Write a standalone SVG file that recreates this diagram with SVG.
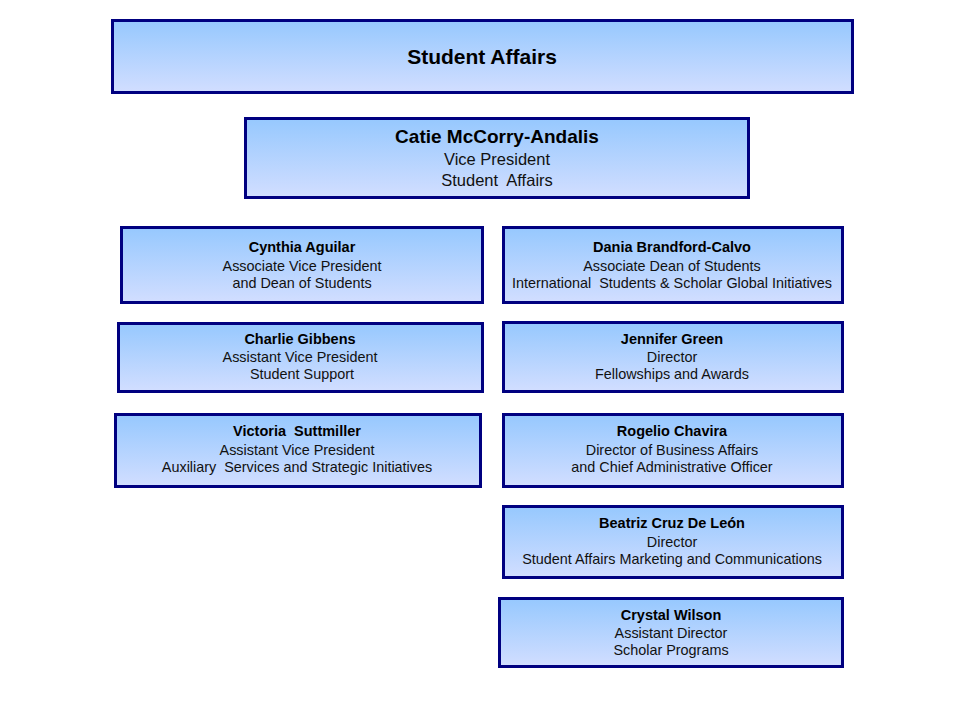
<svg xmlns="http://www.w3.org/2000/svg" width="960" height="720" viewBox="0 0 960 720">
<defs>
<linearGradient id="g" x1="0" y1="0" x2="0" y2="1">
<stop offset="0" stop-color="#96C8FE"/>
<stop offset="1" stop-color="#D2DEFF"/>
</linearGradient>
<style>
.box{fill:url(#g);stroke:#000080;stroke-width:3}
text{font-family:"Liberation Sans",Arial,sans-serif;text-anchor:middle;fill:#000;white-space:pre}
.n{font-size:14.5px;font-weight:bold}
.l{font-size:14.4px;fill:#111}
</style>
</defs>
<rect width="960" height="720" fill="#fff"/>
<g id="connectors"></g>
<g id="title">
<rect class="box" x="112.5" y="20.5" width="740" height="72"/>
<text x="482" y="64" style="font-size:21px;font-weight:bold">Student Affairs</text>
</g>
<g id="catie">
<rect class="box" x="245.5" y="118.5" width="503" height="79"/>
<text x="497" y="143" style="font-size:19px;font-weight:bold">Catie McCorry-Andalis</text>
<text x="497" y="165" style="font-size:16.5px;fill:#111">Vice President</text>
<text x="497" y="186" style="font-size:16.5px;fill:#111" xml:space="preserve">Student  Affairs</text>
</g>
<g id="cynthia">
<rect class="box" x="121.5" y="227.5" width="361" height="75"/>
<text class="n" x="302" y="252">Cynthia Aguilar</text>
<text class="l" x="302" y="271">Associate Vice President</text>
<text class="l" x="302" y="288">and Dean of Students</text>
</g>
<g id="charlie">
<rect class="box" x="118.5" y="323.5" width="364" height="68"/>
<text class="n" x="300" y="344">Charlie Gibbens</text>
<text class="l" x="300" y="362">Assistant Vice President</text>
<text class="l" x="302" y="379">Student Support</text>
</g>
<g id="victoria">
<rect class="box" x="115.5" y="414.5" width="365" height="72"/>
<text class="n" x="297" y="436">Victoria  Suttmiller</text>
<text class="l" x="297" y="455">Assistant Vice President</text>
<text class="l" x="297" y="472" xml:space="preserve">Auxiliary  Services and Strategic Initiatives</text>
</g>
<g id="dania">
<rect class="box" x="503.5" y="227.5" width="339" height="75"/>
<text class="n" x="672" y="252">Dania Brandford-Calvo</text>
<text class="l" x="672" y="271">Associate Dean of Students</text>
<text class="l" x="672" y="288" xml:space="preserve">International  Students &amp; Scholar Global Initiatives</text>
</g>
<g id="jennifer">
<rect class="box" x="503.5" y="322.5" width="339" height="69"/>
<text class="n" x="672" y="344">Jennifer Green</text>
<text class="l" x="672" y="362">Director</text>
<text class="l" x="672" y="379">Fellowships and Awards</text>
</g>
<g id="rogelio">
<rect class="box" x="503.5" y="414.5" width="339" height="72"/>
<text class="n" x="672" y="436">Rogelio Chavira</text>
<text class="l" x="672" y="455">Director of Business Affairs</text>
<text class="l" x="672" y="472">and Chief Administrative Officer</text>
</g>
<g id="beatriz">
<rect class="box" x="503.5" y="506.5" width="339" height="71"/>
<text class="n" x="672" y="528">Beatriz Cruz De León</text>
<text class="l" x="672" y="547">Director</text>
<text class="l" x="672" y="564">Student Affairs Marketing and Communications</text>
</g>
<g id="crystal">
<rect class="box" x="499.5" y="598.5" width="343" height="68"/>
<text class="n" x="671" y="620">Crystal Wilson</text>
<text class="l" x="671" y="638">Assistant Director</text>
<text class="l" x="671" y="655">Scholar Programs</text>
</g>
</svg>
